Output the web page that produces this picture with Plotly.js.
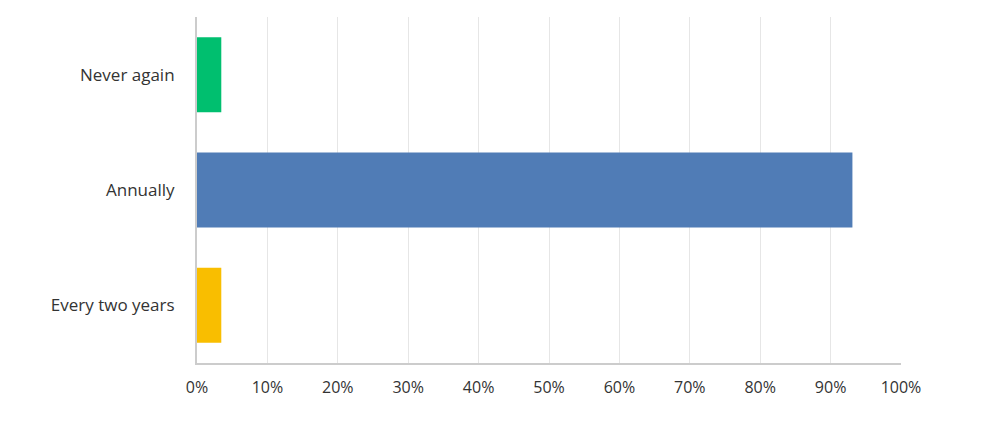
<!DOCTYPE html>
<html>
<head>
<meta charset="utf-8">
<script src="https://cdn.plot.ly/plotly-3.0.1.min.js"></script>
<style>html,body{margin:0;padding:0;background:#fff;}#chart{width:1005px;height:433px;}</style>
</head>
<body>
<div id="chart"></div>
<script>
const categories = ["Never again", "Annually", "Every two years"];
const values = [3.45, 93.10, 3.45];
const colors = ["#00bf6f", "#507cb6", "#f9be00"];
const tickValues = [0, 10, 20, 30, 40, 50, 60, 70, 80, 90, 100];
const tickLabels = ["0%", "10%", "20%", "30%", "40%", "50%", "60%", "70%", "80%", "90%", "100%"];

const trace = {
  type: "bar",
  orientation: "h",
  y: categories,
  x: values,
  marker: { color: colors },
  width: 0.65,
  hoverinfo: "none"
};

const layout = {
  width: 1005,
  height: 433,
  margin: { l: 197, r: 104, t: 17, b: 70 },
  paper_bgcolor: "#fff",
  plot_bgcolor: "#fff",
  showlegend: false,
  font: { family: "Open Sans, sans-serif", color: "#333" },
  xaxis: {
    range: [0, 100],
    tickvals: tickValues,
    ticktext: tickLabels,
    showgrid: true,
    gridcolor: "#e6e6e6",
    gridwidth: 1,
    zeroline: false,
    showline: true,
    linecolor: "#cccccc",
    linewidth: 2,
    ticks: "",
    ticklabelstandoff: 9,
    tickfont: { size: 16, color: "#333" },
    fixedrange: true
  },
  yaxis: {
    autorange: "reversed",
    showgrid: false,
    zeroline: false,
    showline: true,
    linecolor: "#cccccc",
    linewidth: 2,
    ticks: "",
    ticklabelstandoff: 17,
    tickfont: { size: 17, color: "#333" },
    fixedrange: true
  }
};

Plotly.newPlot("chart", [trace], layout, { displayModeBar: false, staticPlot: true });
</script>
</body>
</html>
